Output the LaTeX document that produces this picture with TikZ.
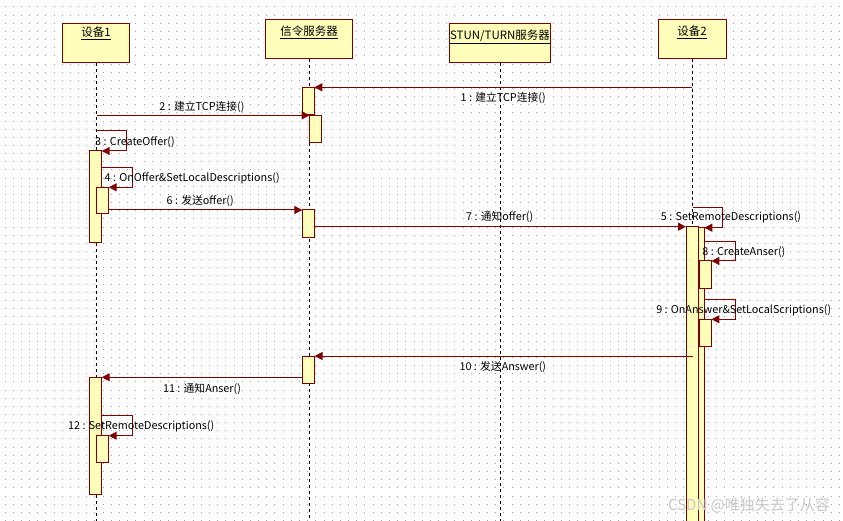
\documentclass[tikz,border=0pt]{standalone}
\usepackage{fontspec}
\setmainfont{Noto Sans CJK SC}
\usetikzlibrary{arrows.meta, positioning}
\definecolor{lineC}{RGB}{128,  0,  0}
\definecolor{boxC} {RGB}{255,255,187}
\definecolor{dotC} {RGB}{160,160,160}

\begin{document}
\begin{tikzpicture}[x=1pt, y=-1pt,
  griddot/.style={dotC, line width=1pt, dash pattern=on 1pt off 7.18pt},
  head/.style={draw=lineC, fill=boxC, line width=1pt, minimum height=39pt,
               inner sep=0pt, anchor=north},
  title/.style={font=\fontsize{11.5}{13}\selectfont, inner sep=0pt},
  lifeline/.style={black, line width=1pt, dash pattern=on 3pt off 3pt},
  act/.style={draw=lineC, fill=boxC, line width=1pt, inner sep=0pt,
              outer sep=0pt, anchor=north west},
  msg/.style={lineC, line width=1pt, -{Triangle[length=8pt, width=8pt]}},
  msglbl/.style={font=\fontsize{10.8}{12}\selectfont, inner sep=0pt}]

\useasboundingbox[fill=white] (0,0) rectangle (843,521);

% ============================================================
% Background dot grid
% ============================================================
\foreach \i in {0,...,63}
  \draw[griddot] (4.5,{7+8.15*\i}) -- (843,{7+8.15*\i});

% ============================================================
% Participants and lifelines
% ============================================================
\coordinate (bot) at (0,521);

\node[head, minimum width=67pt]  (hd1)  at (96,23.3)  {};
\node[head, minimum width=87pt]  (hsig) at (309,19.3) {};
\node[head, minimum width=101pt] (hstun) at (500,23.3) {};
\node[head, minimum width=68pt]  (hd2)  at (692,19.3) {};

\node[title, below=3.4pt of hd1.north]   (t1)    {\underline{设备1}};
\node[title, below=6.4pt of hsig.north]  (tsig)  {\underline{信令服务器}};
\node[title, below=6.7pt of hstun.north] (tstun) {\underline{STUN/TURN服务器}};
\node[title, below=6.4pt of hd2.north]   (t2)    {\underline{设备2}};

\foreach \h in {hd1, hsig, hstun, hd2}
  \draw[lifeline] (\h.south) -- (\h.south |- bot);

% ============================================================
% Activation boxes
% ============================================================
% 信令服务器
\node[act, minimum width=12pt, minimum height=27pt] (sigA) at (302.3,87.3)  {};
\node[act, minimum width=12pt, minimum height=27pt] (sigB) at (309.7,115.3) {};
\node[act, minimum width=12pt, minimum height=27.3pt] (sigC) at (302.3,210) {};
\node[act, minimum width=12.6pt, minimum height=27.3pt] (sigD) at (302,356) {};

% 设备1
\node[act, minimum width=12.4pt, minimum height=91.3pt]  (d1A) at (89.3,151)   {};
\node[act, minimum width=12.7pt, minimum height=26.7pt]  (d1B) at (96,187.3)   {};
\node[act, minimum width=12.4pt, minimum height=117pt]   (d1C) at (89.3,377.3) {};
\node[act, minimum width=12.7pt, minimum height=26.6pt]  (d1D) at (96,435.7)   {};

% 设备2
\node[act, minimum width=12pt,   minimum height=305pt]  (d2A) at (686,226.7) {};
\node[act, minimum width=6.3pt,  minimum height=305pt]  (d2B) at (698,227.7) {};
\node[act, minimum width=12.4pt, minimum height=27.3pt] (d2C) at (699,261)   {};
\node[act, minimum width=12.4pt, minimum height=26.7pt] (d2D) at (699,319.3) {};

% ============================================================
% Messages
% ============================================================
\coordinate (m1s)  at (692,87.3);
\coordinate (m2s)  at (96.7,115.3);
\coordinate (m3s)  at (96.7,131);
\coordinate (m4s)  at (101.7,167.3);
\coordinate (m6s)  at (108.7,210);
\coordinate (m7s)  at (314.3,226.7);
\coordinate (m5s)  at (692.5,207.3);
\coordinate (m8s)  at (704.3,241.7);
\coordinate (m9s)  at (704.3,299.3);
\coordinate (m10s) at (692.5,356);
\coordinate (m11s) at (302,377.3);
\coordinate (m12s) at (101.7,415.7);

\draw[msg] (m1s) -- (sigA.north east);
\draw[msg] (m2s) -- (sigB.north west);
\draw[msg] (m3s) -- ++(30,0) |- (d1A.north east);
\draw[msg] (m4s) -- ++(30.6,0) |- (d1B.north east);
\draw[msg] (m6s) -- (sigC.north west);
\draw[msg] (m7s) -- (d2A.north west);
\draw[msg] (m5s) -- ++(30.4,0) |- (d2B.north east);
\draw[msg] (m8s) -- ++(31.4,0) |- (d2C.north east);
\draw[msg] (m9s) -- ++(31.4,0) |- (d2D.north east);
\draw[msg] (m10s) -- (sigD.north east);
\draw[msg] (m11s) -- (d1C.north east);
\draw[msg] (m12s) -- ++(30.6,0) |- (d1D.north east);

% Labels
\node[msglbl] (l1)  at (503.2,98.3)  {1 : 建立TCP连接()};
\node[msglbl] (l2)  at (202,106.7)   {2 : 建立TCP连接()};
\node[msglbl] (l3)  at (135,142.3)   {3 : CreateOffer()};
\node[msglbl] (l4)  at (192.2,178.3) {4 : OnOffer\&SetLocalDescriptions()};
\node[msglbl] (l6)  at (200.2,201)   {6 : 发送offer()};
\node[msglbl] (l7)  at (499.7,217.3) {7 : 通知offer()};
\node[msglbl] (l5)  at (731,217.7)   {5 : SetRemoteDescriptions()};
\node[msglbl] (l8)  at (743.9,252.3) {8 : CreateAnser()};
\node[msglbl] (l9)  at (743.7,310)   {9 : OnAnswer\&SetLocalScriptions()};
\node[msglbl] (l10) at (502.8,367.3) {10 : 发送Answer()};
\node[msglbl] (l11) at (202,389)     {11 : 通知Anser()};
\node[msglbl] (l12) at (141.2,426.7) {12 : SetRemoteDescriptions()};

% Watermark
\node[font=\fontsize{15}{17}\selectfont, text=black!22, inner sep=0pt]
  (wm) at (749,505) {CSDN @唯独失去了从容};

\end{tikzpicture}
\end{document}
